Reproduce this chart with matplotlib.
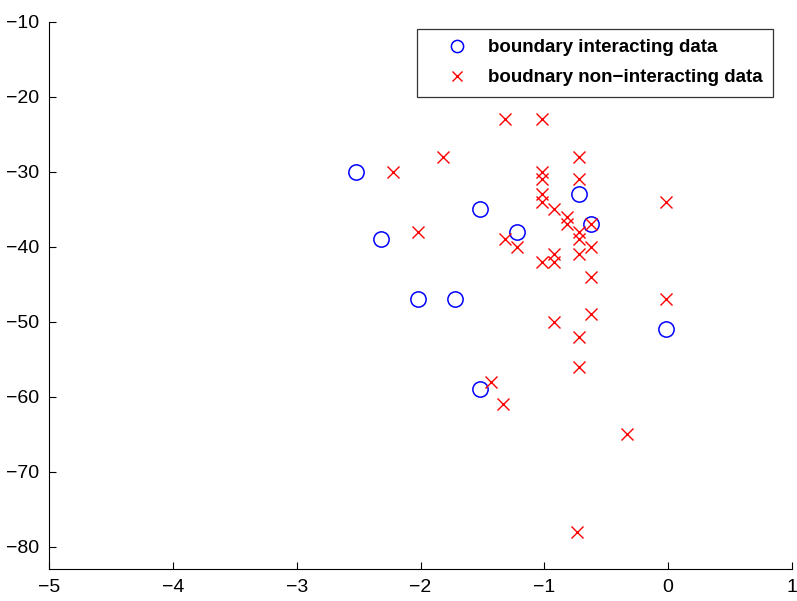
import matplotlib
matplotlib.use("Agg")
import matplotlib.pyplot as plt

plt.rcParams['font.family'] = ['Liberation Sans', 'DejaVu Sans']

# boundary interacting data
int_x = [-2.52, -2.32, -1.52, -1.22, -2.02, -1.72, -1.52, -0.72, -0.62, -0.02]
int_y = [-30, -39, -35, -38, -47, -47, -59, -33, -37, -51]

# boundary non-interacting data
non_x = [-2.22, -1.82, -2.02, -1.32, -1.02, -1.32, -1.22, -1.43, -1.33,
         -0.72, -0.72, -1.02, -1.02, -1.02, -1.02, -0.92, -0.82, -0.82,
         -0.72, -0.72, -0.72, -0.62, -0.62, -1.02, -0.92, -0.92, -0.62,
         -0.02, -0.02, -0.92, -0.62, -0.72, -0.72, -0.33, -0.74]
non_y = [-30, -28, -38, -23, -23, -39, -40, -58, -61,
         -28, -31, -30, -31, -33, -34, -35, -36, -37,
         -38, -39, -41, -37, -40, -42, -41, -42, -44,
         -34, -47, -50, -49, -52, -56, -65, -78]

labels = ['boundary interacting data', 'boudnary non\u2212interacting data']
x_ticks = [-5, -4, -3, -2, -1, 0, 1]
y_ticks = [-80, -70, -60, -50, -40, -30, -20, -10]

fig = plt.figure(figsize=(7.97, 6.01), dpi=100)
ax = fig.add_axes([49/797, 1 - 569/601, (792 - 49)/797, (569 - 22)/601])

ax.plot(int_x, int_y, linestyle='none', marker='o', markersize=11,
        markerfacecolor='none', markeredgecolor='#0000ff', markeredgewidth=1.1,
        label=labels[0])
ax.plot(non_x, non_y, linestyle='none', marker='x', markersize=9,
        color='#ff0000', markeredgewidth=1.0, label=labels[1])

ax.set_xlim(-5, 1)
ax.set_ylim(-83, -10)
ax.set_xticks(x_ticks)
ax.set_yticks(y_ticks)
ax.spines['top'].set_visible(False)
ax.spines['right'].set_visible(False)
ax.tick_params(direction='in', length=5, labelsize=14, pad=7, width=0.8)
for s in ['left', 'bottom']:
    ax.spines[s].set_linewidth(0.8)

leg = fig.legend(loc='upper right', bbox_to_anchor=(773/797, 1 - 29/601),
                 bbox_transform=fig.transFigure,
                 prop={'weight': 'bold', 'size': 13.5},
                 frameon=True, fancybox=False, edgecolor='black',
                 markerscale=0.8, handletextpad=0.05, borderpad=0.55,
                 labelspacing=0.68, handlelength=3.2, borderaxespad=0)
leg.get_frame().set_linewidth(0.9)

fig.savefig('out.png', dpi=100)
